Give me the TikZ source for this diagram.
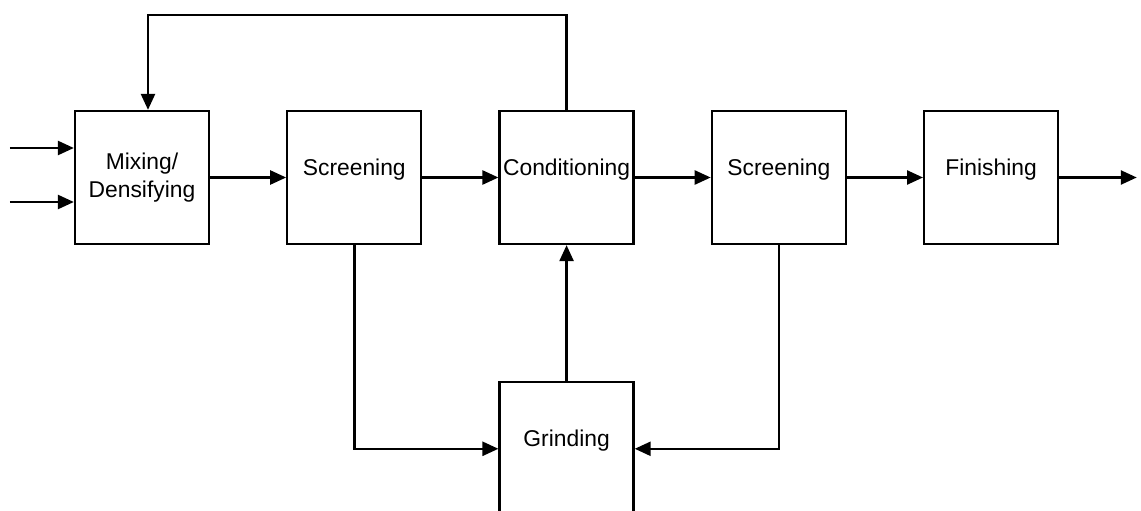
\documentclass[tikz,border=0pt]{standalone}
\usepackage{fontspec}
\setmainfont{Liberation Sans}
\usepackage{tikz}
\usetikzlibrary{arrows.meta, positioning, calc}

\begin{document}
\begin{tikzpicture}[
  node distance = 1.52cm and 1.52cm,
  >={Triangle[length=3.2mm, width=2.8mm]},
  every node/.style={font=\fontsize{13}{15.5}\selectfont},
  box/.style={draw=black, line width=1.3pt, minimum width=2.68cm, minimum height=2.66cm,
              inner sep=0pt, align=center, text depth=0.42cm},
  twoline/.style={text depth=, align=center},
  flow/.style={line width=1.4pt, draw=black}
]
  % ----- frame -----
  \clip (0,0) rectangle (22.82,-10.22);
  % ----- main line -----
  \node[box, twoline] (mix) at (2.84,-3.55) {Mixing/\\Densifying};
  \node[box, right=of mix] (scr1) {Screening};
  \node[box, right=of scr1] (cond) {Conditioning};
  \node[box, right=of cond] (scr2) {Screening};
  \node[box, right=of scr2] (fin) {Finishing};
  % ----- grinding below -----
  \node[box, below=2.72cm of cond] (grind) {Grinding};
  % ----- loose ends -----
  \coordinate (in1) at ($(mix.west)+(-1.28,0.59)$);
  \coordinate (in2) at ($(mix.west)+(-1.28,-0.49)$);
  \coordinate (out) at ($(fin.east)+(1.55,0)$);
  \coordinate (top) at ($(cond.north)+(0,1.9)$);
  \coordinate (mixtop) at ($(mix.north)+(0.12,0)$);
  % ----- arrows -----
  \draw[->,flow] (in1) -- (in1 -| mix.west);
  \draw[->,flow] (in2) -- (in2 -| mix.west);
  \draw[->,flow] (mix) -- (scr1);
  \draw[->,flow] (scr1) -- (cond);
  \draw[->,flow] (cond) -- (scr2);
  \draw[->,flow] (scr2) -- (fin);
  \draw[->,flow] (fin) -- (out);
  % ----- recycle -----
  \draw[->,flow] (cond.north) -- (top) -| (mixtop);
  \draw[->,flow] (scr1.south) |- (grind.west);
  \draw[->,flow] (scr2.south) |- (grind.east);
  \draw[->,flow] (grind) -- (cond);
\end{tikzpicture}
\end{document}
